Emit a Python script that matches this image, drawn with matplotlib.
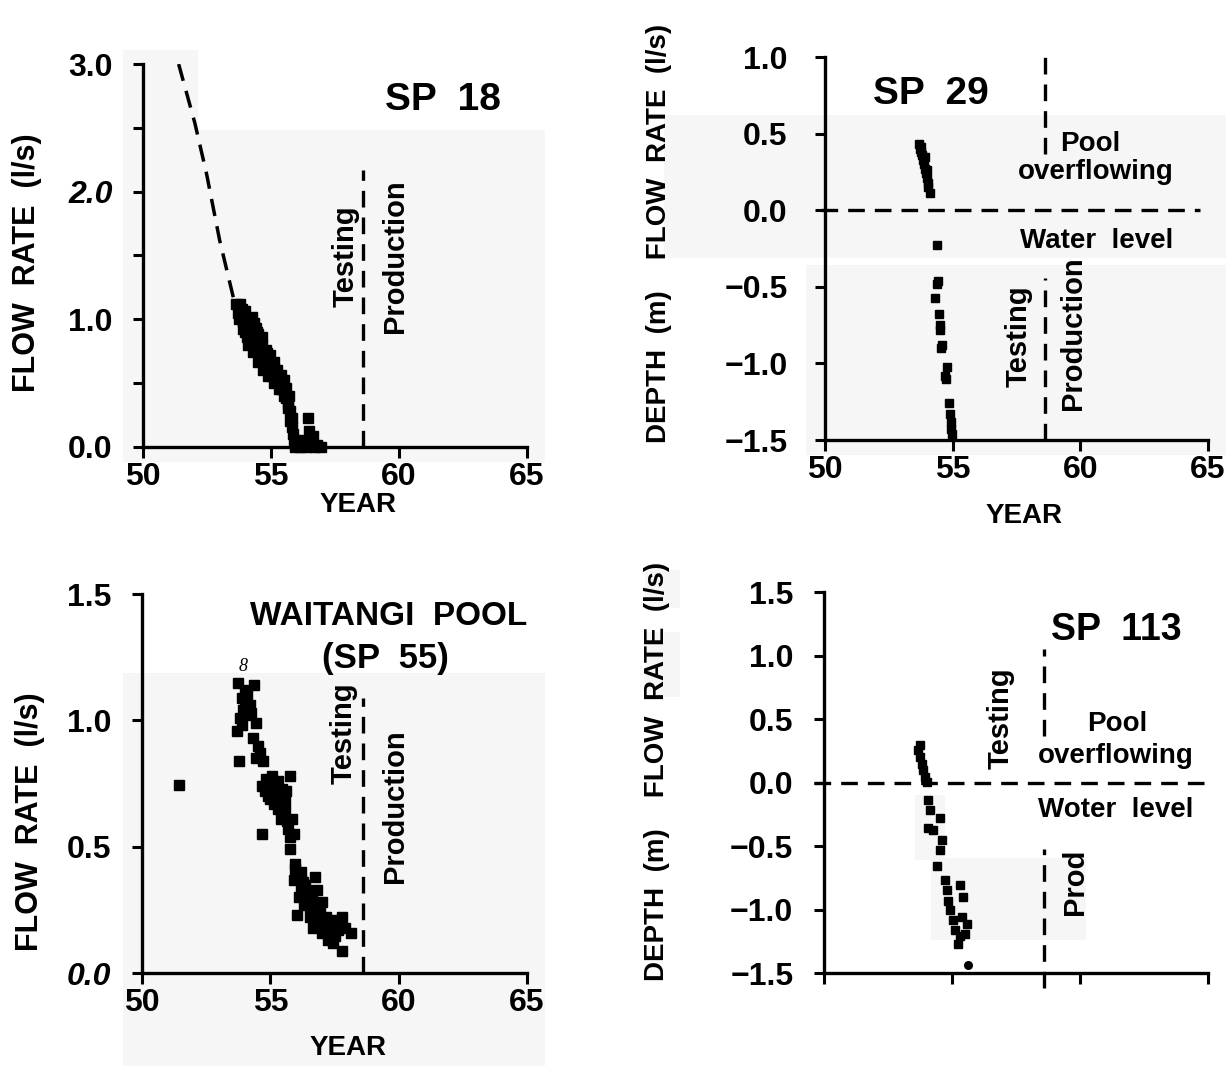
import matplotlib
matplotlib.use("Agg")
import matplotlib.pyplot as plt
from matplotlib.patches import Rectangle

plt.rcParams['font.family'] = ['Liberation Sans', 'DejaVu Sans']
plt.rcParams['font.weight'] = 'bold'

# ---- data (year = 19xx) ----
# SP 18 : flow rate (l/s)
sp18_curve_year = [51.39, 52.02, 52.48, 52.99, 53.55]
sp18_curve_flow = [3.00, 2.54, 2.14, 1.62, 1.15]
sp18_year = [53.65, 53.70, 53.75, 53.85, 53.90, 53.95, 54.05, 54.10, 54.15, 54.25,
             54.30, 54.35, 54.20, 54.40, 54.45, 54.50, 54.55, 54.60, 54.65, 54.70,
             54.75, 54.80, 54.85, 54.90, 54.95, 55.00, 55.05, 55.10, 55.15, 55.20,
             55.30, 55.35, 55.40, 55.45, 55.55, 55.60, 55.65, 55.75, 55.80, 55.82,
             55.85, 55.90, 55.95, 56.05, 56.15, 56.25, 56.35, 56.45, 56.50, 56.55,
             56.65, 56.70, 56.80, 56.95,
             53.80, 54.00, 54.20, 54.35, 54.50, 54.65, 54.80, 54.95, 55.10, 55.25,
             55.40, 55.50, 55.60, 55.70, 54.40, 54.00, 54.85, 55.20,
             54.10, 54.30, 54.50, 54.70, 54.90, 55.10, 55.30, 55.50, 55.65, 55.75,
             53.90, 54.05]
sp18_flow = [1.12, 1.05, 1.00, 1.08, 0.98, 1.03, 0.95, 1.00, 0.92, 1.02,
             0.96, 0.88, 0.85, 0.82, 0.90, 0.78, 0.84, 0.75, 0.80, 0.72,
             0.66, 0.70, 0.62, 0.68, 0.58, 0.65, 0.55, 0.62, 0.58, 0.52,
             0.55, 0.50, 0.45, 0.50, 0.42, 0.38, 0.33, 0.28, 0.22, 0.15,
             0.10, 0.05, 0.00, 0.02, 0.00, 0.05, 0.00, 0.22, 0.12, 0.03,
             0.08, 0.00, 0.01, 0.00,
             1.12, 1.06, 0.98, 0.97, 0.88, 0.86, 0.76, 0.72, 0.66, 0.60,
             0.56, 0.52, 0.46, 0.40, 0.93, 0.90, 0.73, 0.57,
             0.80, 0.74, 0.66, 0.60, 0.55, 0.50, 0.45, 0.40, 0.30, 0.20,
             0.92, 0.86]

# SP 29 : flow rate (>0) / depth (<0)
sp29_year = [53.70, 53.72, 53.75, 53.80, 53.85, 53.88, 53.92, 53.95, 54.00, 54.02,
             54.05, 54.10, 54.40, 54.42, 54.38, 54.30, 54.45, 54.50, 54.52, 54.60,
             54.55, 54.78, 54.70, 54.75, 54.85, 54.88, 54.92, 54.95, 54.98,
             53.78, 53.90, 53.98]
sp29_value = [0.43, 0.40, 0.38, 0.36, 0.33, 0.30, 0.27, 0.24, 0.21, 0.18,
              0.15, 0.11, -0.23, -0.46, -0.48, -0.57, -0.68, -0.75, -0.78, -0.88,
              -0.90, -1.02, -1.08, -1.10, -1.26, -1.33, -1.38, -1.43, -1.46,
              0.41, 0.35, 0.26]

# Waitangi Pool (SP 55) : flow rate (l/s)
sp55_year = [51.46, 53.76, 54.03, 54.38, 53.69, 53.78, 54.17, 54.31, 54.45, 54.45,
             54.73, 54.66, 54.66, 55.00, 55.15, 55.00, 55.29, 55.77, 55.56, 55.29,
             55.43, 55.49, 55.84, 55.77, 55.91, 55.77, 55.98, 55.91, 56.19, 56.19,
             56.75, 56.05, 56.47, 56.68, 56.82, 56.54, 56.95, 56.68, 57.09, 57.23,
             57.44, 57.58, 57.79, 57.79, 57.93, 58.14, 57.51, 56.95, 57.30, 54.87,
             54.80, 55.08, 55.22, 55.43, 55.56, 55.36, 55.08, 54.94, 54.59, 54.52,
             54.03, 53.89, 54.10, 54.24, 53.89, 53.82, 55.98, 56.26, 56.40, 56.61,
             56.82, 57.02, 56.89, 57.16, 57.37,
             54.95, 55.05, 55.12, 55.18, 55.25, 55.32, 55.40, 55.45, 55.52, 55.60,
             55.65, 55.70, 54.90, 54.85, 56.10, 56.30, 56.55, 56.70, 56.80, 57.00,
             57.10, 57.20, 57.35, 57.45, 57.65, 56.20, 56.35, 54.10, 54.20, 53.95]
sp55_flow = [0.745, 1.15, 1.07, 1.14, 0.96, 0.84, 1.02, 0.93, 0.99, 0.85,
             0.84, 0.74, 0.55, 0.74, 0.67, 0.69, 0.76, 0.78, 0.69, 0.65,
             0.61, 0.69, 0.61, 0.54, 0.55, 0.49, 0.43, 0.37, 0.37, 0.33,
             0.38, 0.23, 0.29, 0.28, 0.33, 0.22, 0.24, 0.18, 0.17, 0.13,
             0.17, 0.21, 0.22, 0.086, 0.18, 0.16, 0.145, 0.20, 0.20, 0.75,
             0.72, 0.71, 0.72, 0.70, 0.65, 0.69, 0.78, 0.72, 0.87, 0.90,
             1.12, 1.09, 1.05, 1.03, 0.98, 1.01, 0.41, 0.36, 0.33, 0.32,
             0.26, 0.28, 0.21, 0.22, 0.18,
             0.76, 0.73, 0.70, 0.75, 0.68, 0.71, 0.66, 0.73, 0.63, 0.72,
             0.60, 0.57, 0.70, 0.77, 0.30, 0.27, 0.26, 0.23, 0.20, 0.16,
             0.20, 0.18, 0.15, 0.12, 0.17, 0.40, 0.35, 1.10, 1.06, 1.04]

# SP 113 : flow rate (>0) / depth (<0)
sp113_year = [53.75, 53.68, 53.75, 53.82, 53.88, 53.95, 54.01, 54.07, 54.14, 54.53,
              54.07, 54.27, 54.60, 54.53, 54.40, 54.73, 54.79, 55.31, 54.86, 55.44,
              54.92, 55.05, 55.38, 55.12, 55.25, 55.57, 55.51, 55.31]
sp113_value = [0.295, 0.26, 0.20, 0.15, 0.10, 0.046, 0.006, -0.14, -0.22, -0.28,
               -0.36, -0.37, -0.45, -0.53, -0.66, -0.77, -0.85, -0.81, -0.93, -0.90,
               -1.00, -1.08, -1.06, -1.16, -1.27, -1.11, -1.19, -1.21]
sp113_last_year = [55.64]
sp113_last_value = [-1.44]

production_start = 58.6
year_ticks = [50, 55, 60, 65]

W, H = 1230, 1066
fig = plt.figure(figsize=(W / 100, H / 100), dpi=100)

# faint grey scan patches (pixel boxes x0, y0, x1, y1)
scan_patches = [(123, 50, 198, 130), (123, 130, 545, 462),
                (664, 115, 1226, 258), (806, 265, 1226, 455),
                (123, 673, 545, 1066), (931, 858, 1086, 940), (915, 795, 945, 860),
                (645, 632, 680, 697), (645, 570, 680, 608)]
for x0, y0, x1, y1 in scan_patches:
    fig.add_artist(Rectangle((x0 / W, 1 - y1 / H), (x1 - x0) / W, (y1 - y0) / H,
                             transform=fig.transFigure, color='#f6f6f6', zorder=-1, lw=0))

dash = (0, (5, 3))
TICK = 23


def base_axes(rect, ylim, yticks, ylabels, xlabels=True, ypad=15):
    ax = fig.add_axes(rect)
    ax.patch.set_alpha(0)
    for s in ['top', 'right']:
        ax.spines[s].set_visible(False)
    for s in ['left', 'bottom']:
        ax.spines[s].set_linewidth(2.4)
    ax.set_xlim(50, 65)
    ax.set_ylim(*ylim)
    ax.set_xticks(year_ticks)
    if xlabels:
        ax.set_xticklabels([str(t) for t in year_ticks], fontsize=TICK, fontweight='bold')
        ax.set_xlabel('YEAR', fontsize=20, fontweight='bold')
    else:
        ax.set_xticklabels([])
    ax.set_yticks(yticks)
    ax.set_yticklabels(ylabels, fontsize=TICK, fontweight='bold')
    ax.tick_params(axis='x', direction='out', length=8, width=2.2, pad=3)
    ax.tick_params(axis='y', direction='out', length=7, width=2.2, pad=ypad)
    return ax


# ---- SP 18 ----
ax1 = base_axes([0.1163, 0.5811, 0.3122, 0.3588], (0, 3.0), [0, 1, 2, 3],
                ['0.0', '1.0', '2.0', '3.0'])
ax1.set_yticks([0.5, 1.5, 2.5], minor=True)
ax1.tick_params(axis='y', which='minor', direction='out', length=7, width=2.2)
ax1.get_yticklabels()[2].set_style('italic')
ax1.plot(sp18_curve_year, sp18_curve_flow, color='black', lw=2.5, ls=dash)
ax1.plot(sp18_year, sp18_flow, 's', color='black', ms=7, clip_on=False)
ax1.vlines(production_start, 0, 2.17, colors='black', lw=2.4, linestyles=dash)
ax1.text(61.7, 2.72, 'SP  18', fontsize=28, fontweight='bold', ha='center', va='center')
ax1.text(57.9, 1.49, 'Testing', fontsize=21, rotation=90, ha='center', va='center')
ax1.text(59.85, 1.49, 'Production', fontsize=21, rotation=90, ha='center', va='center')
ax1.set_ylabel('FLOW  RATE  (l/s)', fontsize=22, fontweight='bold')
ax1.yaxis.set_label_coords(-0.263, 0.48)
ax1.xaxis.set_label_coords(0.56, -0.12)

# ---- SP 29 ----
ax2 = base_axes([0.6707, 0.5872, 0.3114, 0.3593], (-1.5, 1.0),
                [-1.5, -1.0, -0.5, 0.0, 0.5, 1.0],
                ['\u22121.5', '\u22121.0', '\u22120.5', '0.0', '0.5', '1.0'], ypad=20)
ax2.plot(sp29_year, sp29_value, 's', color='black', ms=5.5)
ax2.hlines(0, 49.85, 64.7, colors='black', lw=2.4, linestyles=dash, clip_on=False)
ax2.vlines(production_start, 0.37, 1.0, colors='black', lw=2.4, linestyles=dash)
ax2.vlines(production_start, -1.5, -0.44, colors='black', lw=2.4, linestyles=dash)
ax2.text(54.15, 0.76, 'SP  29', fontsize=28, fontweight='bold', ha='center', va='center')
ax2.text(60.4, 0.43, 'Pool', fontsize=20, ha='center', va='center')
ax2.text(60.6, 0.25, 'overflowing', fontsize=20, ha='center', va='center')
ax2.text(60.65, -0.2, 'Water  level', fontsize=20, ha='center', va='center')
ax2.text(57.6, -0.82, 'Testing', fontsize=21, rotation=90, ha='center', va='center')
ax2.text(59.7, -0.80, 'Production', fontsize=21, rotation=90, ha='center', va='center')
ax2.set_ylabel('DEPTH  (m)    FLOW  RATE  (l/s)', fontsize=20, fontweight='bold')
ax2.yaxis.set_label_coords(-0.40, 0.54)
ax2.xaxis.set_label_coords(0.52, -0.164)

# ---- Waitangi Pool (SP 55) ----
ax3 = base_axes([0.1154, 0.0872, 0.313, 0.3555], (0, 1.5), [0, 0.5, 1.0, 1.5],
                ['0.0', '0.5', '1.0', '1.5'])
ax3.get_yticklabels()[0].set_style('italic')
ax3.plot(sp55_year, sp55_flow, 's', color='black', ms=7)
ax3.vlines(production_start, 0, 1.09, colors='black', lw=2.4, linestyles=dash)
ax3.text(59.6, 1.41, 'WAITANGI  POOL', fontsize=24, fontweight='bold', ha='center', va='center')
ax3.text(59.5, 1.245, '(SP  55)', fontsize=25, fontweight='bold', ha='center', va='center')
ax3.text(53.95, 1.215, '8', fontsize=13, family='Liberation Serif', style='italic',
         fontweight='normal', ha='center', va='center')
ax3.text(57.85, 0.95, 'Testing', fontsize=21, rotation=90, ha='center', va='center')
ax3.text(59.85, 0.66, 'Production', fontsize=21, rotation=90, ha='center', va='center')
ax3.set_ylabel('FLOW  RATE  (l/s)', fontsize=22, fontweight='bold')
ax3.yaxis.set_label_coords(-0.252, 0.40)
ax3.xaxis.set_label_coords(0.535, -0.164)

# ---- SP 113 ----
ax4 = base_axes([0.6699, 0.0872, 0.3122, 0.3574], (-1.5, 1.5),
                [-1.5, -1.0, -0.5, 0.0, 0.5, 1.0, 1.5],
                ['\u22121.5', '\u22121.0', '\u22120.5', '0.0', '0.5', '1.0', '1.5'],
                xlabels=False)
ax4.plot(sp113_year, sp113_value, 's', color='black', ms=6)
ax4.plot(sp113_last_year, sp113_last_value, 'o', color='black', ms=5.5)
ax4.hlines(0, 49.6, 65, colors='black', lw=2.4, linestyles=dash, clip_on=False)
ax4.vlines(production_start, 0.365, 1.05, colors='black', lw=2.4, linestyles=dash)
ax4.vlines(production_start, -1.62, -0.52, colors='black', lw=2.4, linestyles=dash,
           clip_on=False)
ax4.text(61.4, 1.2, 'SP  113', fontsize=27, fontweight='bold', ha='center', va='center')
ax4.text(61.45, 0.46, 'Pool', fontsize=20, ha='center', va='center')
ax4.text(61.4, 0.21, 'overflowing', fontsize=20, ha='center', va='center')
ax4.text(61.4, -0.22, 'Woter  level', fontsize=20, ha='center', va='center')
ax4.text(56.9, 0.51, 'Testing', fontsize=21, rotation=90, ha='center', va='center')
ax4.text(59.8, -0.78, 'Prod', fontsize=21, rotation=90, ha='center', va='center')
ax4.set_ylabel('DEPTH  (m)    FLOW  RATE  (l/s)', fontsize=20, fontweight='bold')
ax4.yaxis.set_label_coords(-0.40, 0.53)

fig.savefig('out.png', dpi=100)
